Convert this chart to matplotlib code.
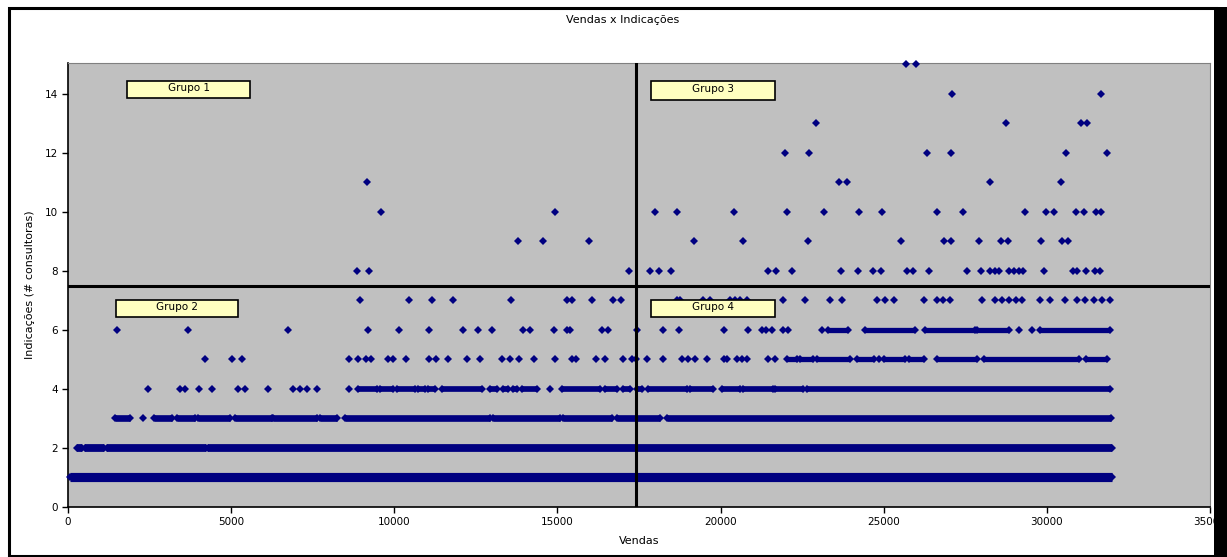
import matplotlib
matplotlib.use("Agg")
import matplotlib.pyplot as plt
from matplotlib.patches import Rectangle

# Vendas x Indicações

# pontos isolados, por nível de indicações (valor de vendas)
v15 = [25680, 26000]
v14 = [27090, 31660]
v13 = [22930, 28740, 31050, 31220]
v12 = [21980, 22700, 26330, 27060, 30580, 31850]
v11 = [9160, 23620, 23890, 28250, 30430]
v10 = [9580, 14930, 18000, 18660, 20420, 22040, 23170, 24250, 24950, 26640,
       27420, 29340, 29970, 30210, 30890, 31130, 31500, 31650]
v9 = [13790, 14560, 15970, 19200, 20680, 22680, 25530, 26850, 27060, 27910,
      28600, 28820, 29830, 30470, 30640]
v8 = [8850, 9220, 17200, 17840, 18110, 18480, 21460, 21700, 22190, 23700,
      24220, 24680, 24910, 25710, 25910, 26400, 27550, 27980, 28260, 28410,
      28540, 28850, 29000, 29150, 29280, 29920, 30790, 30920, 31190, 31480, 31630]
v7 = [8950, 10450, 11150, 11810, 13570, 15290, 15440, 16050, 16690, 16940,
      18660, 18760, 19470, 19680, 20290, 20440, 20600, 20800, 21920, 22590,
      23360, 23710, 24800, 25050, 25310, 26230, 26630, 26830, 27040, 28010,
      28410, 28620, 28830, 29040, 29240, 29790, 30100, 30560, 30920, 31180,
      31440, 31700, 31950]
v6 = [1490, 3670, 6730, 9190, 10150, 11070, 12120, 12580, 12990, 13960, 14160,
      14900, 15290, 15390, 16360, 16560, 17450, 18230, 18740, 20110, 20830,
      21260, 21390, 21570, 21920, 22080, 23100, 29140, 29550]
v5 = [4200, 5040, 5340, 8600, 8880, 9120, 9290, 9820, 9970, 10350, 11070,
      11280, 11640, 12220, 12630, 13290, 13550, 13830, 14280, 14930, 15440,
      15570, 16180, 16460, 17020, 17280, 17410, 17740, 18250, 18810, 19010,
      19220, 19580, 20090, 20190, 20510, 20650, 20800, 21460, 21670, 24850]
v4 = [2440, 3430, 3590, 4020, 4420, 5220, 5430, 6120, 6910, 7110, 7320, 7620,
      8600, 14770]
v3 = [2310]

# trechos onde os pontos se sobrepõem (inicio, fim)
f6 = [(23300, 23920), (24440, 25970), (26280, 27810), (27860, 28830),
      (29800, 31940)]
f5 = [(22030, 22330), (22440, 22840), (22950, 23970), (24180, 24690),
      (25000, 25660), (25770, 26230), (26640, 27860), (28070, 31000),
      (31190, 31850)]
f4 = [(8890, 9460), (9560, 9970), (10080, 10640), (10730, 10940), (11030, 11250),
      (11450, 12680), (12930, 13140), (13340, 13500), (13650, 13750),
      (13910, 14370), (15130, 16310), (16460, 16820), (17020, 17230),
      (17430, 17580), (17790, 18960), (19060, 19780), (20040, 20600),
      (20700, 21620), (21670, 22540), (22640, 31940)]
f3 = [(1440, 1900), (2640, 3180), (3330, 3890), (3980, 4960), (5120, 6240),
      (6290, 7620), (7730, 8240), (8480, 12930), (13040, 15080), (15180, 16660),
      (16820, 18150), (18350, 31980)]
f2 = [(280, 420), (520, 1100), (1180, 4220), (4300, 32000)]
f1 = [(50, 32000)]

pontos = [v3, v4, v5, v6, v7, v8, v9, v10, v11, v12, v13, v14, v15]
niveis_p = [3, 4, 5, 6, 7, 8, 9, 10, 11, 12, 13, 14, 15]
faixas = [f1, f2, f3, f4, f5, f6]
niveis_f = [1, 2, 3, 4, 5, 6]
esp_f = [6.6, 5.6, 4.8, 4.1, 3.8, 3.8]

corte_x = 17400
corte_y = 7.5

grupos = ["Grupo 1", "Grupo 2", "Grupo 3", "Grupo 4"]
grupo_x = [(1810, 5580), (1470, 5210), (17870, 21670), (17870, 21670)]
grupo_y = [(13.86, 14.44), (6.44, 7.02), (13.80, 14.44), (6.44, 7.02)]

azul = "#000080"

fig = plt.figure(figsize=(12.27, 5.57), dpi=100)
W, H = 1227, 557
ax = fig.add_axes([68 / W, 1 - 507 / H, (1210 - 68) / W, (507 - 63) / H])
ax.set_facecolor("#C0C0C0")

for y, fx, lw in zip(niveis_f, faixas, esp_f):
    ini = [a for a, b in fx]
    fim = [b for a, b in fx]
    ax.hlines([y] * len(fx), ini, fim, colors=azul, lw=lw, zorder=3)
    ax.plot(ini + fim, [y] * (2 * len(fx)), ls="none", marker="D", ms=4.4,
            mew=0, color=azul, zorder=3, clip_on=False)

for y, px in zip(niveis_p, pontos):
    ax.plot(px, [y] * len(px), ls="none", marker="D", ms=4.2, mew=0,
            color=azul, zorder=3, clip_on=False)

ax.axvline(corte_x, color="black", lw=2.2, zorder=4)
ax.axhline(corte_y, color="black", lw=2.2, zorder=4)

for nome, gx, gy in zip(grupos, grupo_x, grupo_y):
    ax.add_patch(Rectangle((gx[0], gy[0]), gx[1] - gx[0], gy[1] - gy[0],
                           facecolor="#FFFFC0", edgecolor="black", lw=1.2,
                           zorder=5))
    ax.text((gx[0] + gx[1]) / 2, (gy[0] + gy[1]) / 2 + 0.05, nome,
            ha="center", va="center", fontsize=7.5, zorder=6)

ax.set_xlim(0, 35000)
ax.set_ylim(0, 15.05)
ax.set_xticks(range(0, 35001, 5000))
ax.set_yticks(range(0, 15, 2))
ax.tick_params(direction="out", length=4, width=1, labelsize=7.5, pad=3,
               colors="black")
for s in ["top", "right"]:
    ax.spines[s].set_color("#808080")
for s in ["left", "bottom"]:
    ax.spines[s].set_color("black")
    ax.spines[s].set_linewidth(1.2)

ax.set_xlabel("Vendas", fontsize=8, labelpad=7)
ax.set_ylabel("Indicações (# consultoras)", fontsize=8, labelpad=7)
fig.text(623 / W, 1 - 20 / H, "Vendas x Indicações", ha="center",
         va="center", fontsize=8)

# moldura do gráfico
fig.patches.append(Rectangle((8.5 / W, 1.5 / H), (1216 - 8.5) / W,
                             (549 - 1.5) / H, transform=fig.transFigure,
                             fill=False, edgecolor="black", lw=2.2))
fig.patches.append(Rectangle((1214 / W, 0), 13 / W, 1 - 7 / H,
                             transform=fig.transFigure, facecolor="black",
                             edgecolor="none"))

fig.savefig("out.png", dpi=100)
